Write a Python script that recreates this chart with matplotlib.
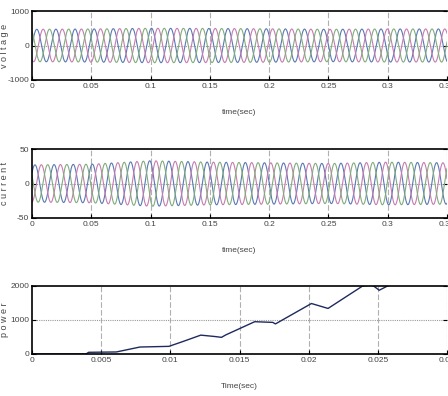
import numpy as np
import matplotlib
matplotlib.use("Agg")
import matplotlib.pyplot as plt

# ---------------- data ----------------
# three-phase waveforms: frequency, per-segment peak amplitudes (envelope)
wave_freq_hz = 62.0
seg_times = [0.0, 0.05, 0.10, 0.15, 0.20, 0.25, 0.30, 0.35]
voltage_peaks = [470, 480, 500, 495, 485, 470, 480, 480]
current_peaks = [27, 28, 33, 31, 30, 29, 31, 30]
phase_shifts_deg = [0, -120, 120]
phase_colors = ["#5a78b4", "#c67cb0", "#82ac7c"]

# power curve (piecewise)
power_t = [0.0, 0.0039, 0.0041, 0.0061, 0.0078, 0.0099, 0.0110, 0.0122,
           0.0132, 0.0137, 0.0140, 0.0161, 0.0174, 0.0176, 0.0202, 0.0214,
           0.0239, 0.0246, 0.0251, 0.0257, 0.0275, 0.0300]
power_w = [0, 0, 50, 60, 205, 225, 380, 555,
           515, 490, 560, 950, 930, 885, 1485, 1340,
           2000, 2030, 1875, 2000, 2350, 2700]

volt_xticks = [0, 0.05, 0.1, 0.15, 0.2, 0.25, 0.3, 0.35]
volt_xlabels = ["0", "0.05", "0.1", "0.15", "0.2", "0.25", "0.3", "0.35"]
pow_xticks = [0, 0.005, 0.01, 0.015, 0.02, 0.025, 0.03]
pow_xlabels = ["0", "0.005", "0.01", "0.015", "0.02", "0.025", "0.03"]

# ---------------- figure ----------------
W, H = 448, 396
fig = plt.figure(figsize=(W / 100, H / 100), dpi=100)
fig.patch.set_facecolor("white")

FAM = ["Liberation Sans Narrow", "Liberation Sans", "DejaVu Sans"]
tick_font = dict(family=FAM, size=6, color="#444444")


def px_axes(left, top, right, bottom):
    return fig.add_axes([left / W, 1 - bottom / H, (right - left) / W, (bottom - top) / H])


def style(ax, xticks, xlabels, yticks, ylabels, xlim, ylim, xlabel, ylabel, hgrid):
    ax.set_xlim(*xlim)
    ax.set_ylim(*ylim)
    ax.set_xticks(xticks)
    ax.set_xticklabels(xlabels, **tick_font)
    ax.set_yticks(yticks)
    ax.set_yticklabels(ylabels, **tick_font)
    ax.tick_params(direction="in", length=3, width=0.8, right=True, top=False, pad=2)
    for v in xticks[1:]:
        ax.axvline(v, color="#b0b0b0", lw=0.8, ls=(0, (5, 2)), zorder=0)
    ax.axhline(hgrid, color="#999999", lw=0.8, ls=(0, (1, 1)), zorder=0)
    for s in ["top", "bottom", "left"]:
        ax.spines[s].set_linewidth(1.2)
    ax.spines["right"].set_visible(False)
    ax.set_xlabel(xlabel, fontfamily=FAM, fontsize=6, color="#444444", labelpad=14)
    ax.set_ylabel(ylabel, fontfamily=FAM, fontsize=6.5, color="#444444")
    ax.yaxis.set_label_coords(-0.055, 0.5)


t = np.linspace(0, 0.35, 6000)


def envelope(peaks):
    return np.interp(t, seg_times, peaks)


# panel 1 : voltage
ax1 = px_axes(32, 11, 447, 80)
env = envelope(voltage_peaks)
for ph, c in zip(phase_shifts_deg, phase_colors):
    ax1.plot(t, env * np.sin(2 * np.pi * wave_freq_hz * t + np.deg2rad(ph)), color=c, lw=0.8)
style(ax1, volt_xticks, volt_xlabels, [-1000, 0, 1000], ["-1000", "0", "1000"],
      (0, 0.35), (-1000, 1000), "time(sec)", "v o l t a g e", 0)

# panel 2 : current
ax2 = px_axes(32, 149, 447, 218)
env = envelope(current_peaks)
for ph, c in zip(phase_shifts_deg, phase_colors):
    ax2.plot(t, env * np.sin(2 * np.pi * wave_freq_hz * t + np.deg2rad(ph) + 0.6), color=c, lw=0.8)
style(ax2, volt_xticks, volt_xlabels, [-50, 0, 50], ["-50", "0", "50"],
      (0, 0.35), (-50, 50), "time(sec)", "c u r r e n t", 0)

# panel 3 : power
ax3 = px_axes(32, 286, 447, 354)
ax3.plot(power_t, power_w, color="#1e2a5e", lw=1.0)
style(ax3, pow_xticks, pow_xlabels, [0, 1000, 2000], ["0", "1000", "2000"],
      (0, 0.03), (0, 2000), "Time(sec)", "p o w e r", 1000)

fig.savefig("out.png", dpi=100)
